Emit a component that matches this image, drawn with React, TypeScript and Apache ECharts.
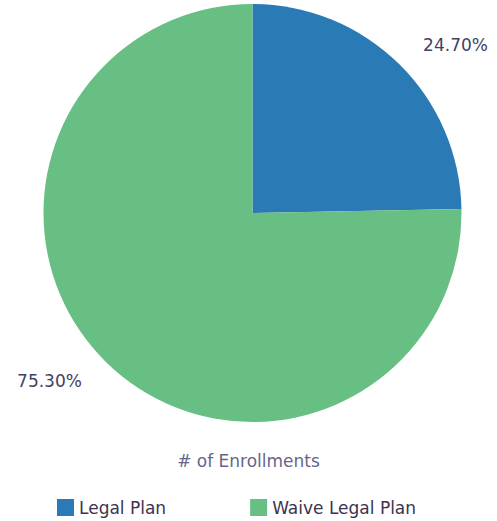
import React, { useEffect, useRef } from "react";
import * as echarts from "echarts";

const categories = ["Legal Plan", "Waive Legal Plan"];
const values = [24.7, 75.3];
const colors = ["#2a7ab5", "#68bf83"];
const titleText = "# of Enrollments";

export default function App() {
  const ref = useRef<HTMLDivElement>(null);
  useEffect(() => {
    if (!ref.current) return;
    const chart = echarts.init(ref.current, undefined, { renderer: "svg" });
    const font = "'DejaVu Sans', Verdana, sans-serif";
    chart.setOption({
      animation: false,
      color: colors,
      title: {
        text: titleText,
        left: "center",
        top: 447,
        textStyle: { fontSize: 17, fontWeight: "normal", color: "#66668a", fontFamily: font },
      },
      legend: {
        data: categories,
        left: 52,
        top: 494,
        icon: "rect",
        itemWidth: 17,
        itemHeight: 17,
        itemGap: 84,
        textStyle: { fontSize: 17, color: "#3c3350", fontFamily: font },
      },
      series: [
        {
          type: "pie",
          center: [252.5, 213],
          radius: 209,
          startAngle: 90,
          clockwise: true,
          data: categories.map((name, i) => ({ name, value: values[i] })),
          label: {
            show: true,
            position: "outside",
            formatter: (p: any) => p.value.toFixed(2) + "%",
            fontSize: 17,
            color: "#424262",
            fontFamily: font,
            overflow: "none",
            edgeDistance: 0,
          },
          labelLine: { show: false, length: 26, length2: 1 },
          emphasis: { disabled: true },
        },
      ],
    });
    return () => chart.dispose();
  }, []);
  return <div ref={ref} style={{ width: 497, height: 521, position: "absolute", left: 0, top: 0 }} />;
}
